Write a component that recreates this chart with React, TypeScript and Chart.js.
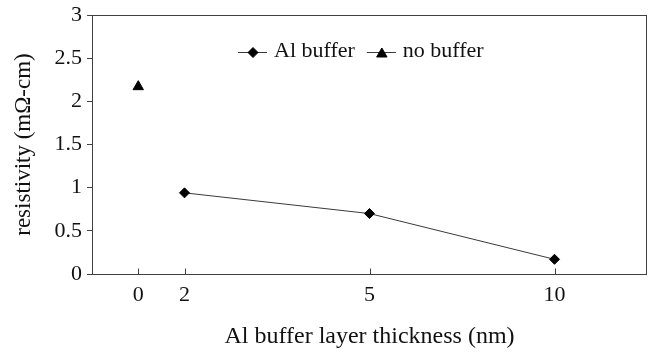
import React, { useEffect, useRef } from 'react';
import { Chart, registerables } from 'chart.js';

Chart.register(...registerables);

// ---- data ----
const xAxisSlots = ['', '0', '2', '', '', '', '5', '', '', '', '10', '', ''];
const alBufferThickness = ['2', '5', '10'];
const alBufferResistivity = [0.94, 0.7, 0.17];
const noBufferThickness = ['0'];
const noBufferResistivity = [2.17];
const seriesLabels = ['Al buffer', 'no buffer'];
const yMin = 0;
const yMax = 3;
const yStep = 0.5;
const xTitle = 'Al buffer layer thickness (nm)';
const yTitle = 'resistivity (mΩ-cm)';

const FONT = '"Liberation Serif", "Times New Roman", serif';
const AXIS = '#404040';
const TEXT = '#111111';

function drawMarker(ctx: CanvasRenderingContext2D, style: string, cx: number, cy: number, r: number, legend = false) {
  ctx.beginPath();
  if (style === 'triangle') {
    const h = 1.5 * r;
    const top = legend ? cy - h / 2 : cy - r;
    ctx.moveTo(cx, top);
    ctx.lineTo(cx + 0.866 * r, top + h);
    ctx.lineTo(cx - 0.866 * r, top + h);
  } else {
    ctx.moveTo(cx - r, cy);
    ctx.lineTo(cx, cy - r);
    ctx.lineTo(cx + r, cy);
    ctx.lineTo(cx, cy + r);
  }
  ctx.closePath();
  ctx.fillStyle = '#000';
  ctx.strokeStyle = '#000';
  ctx.lineWidth = 1;
  ctx.fill();
  ctx.stroke();
}

const customPlugin = {
  id: 'customDecor',
  beforeDatasetsDraw(chart: any) {
    const { ctx, chartArea: a } = chart;
    ctx.save();
    ctx.strokeStyle = AXIS;
    ctx.lineWidth = 1;
    const l = Math.round(a.left) + 0.5;
    const t = Math.round(a.top) + 0.5;
    const r = Math.round(a.right) - 0.5;
    const b = Math.round(a.bottom) + 0.5;
    ctx.strokeRect(l, t, r - l, b - t);
    // inner tick marks on the x axis at labelled slots
    const xs = chart.scales.x;
    xs.ticks.forEach((tk: any, i: number) => {
      const lab = xs.getLabelForValue(tk.value);
      if (!lab) return;
      const px = Math.round(xs.getPixelForTick(i)) + 0.5;
      ctx.beginPath();
      ctx.moveTo(px, b);
      ctx.lineTo(px, b - 6);
      ctx.stroke();
    });
    ctx.restore();
  },
  afterDraw(chart: any) {
    const ctx: CanvasRenderingContext2D = chart.ctx;
    ctx.save();
    ctx.font = `22px ${FONT}`;
    ctx.textBaseline = 'middle';
    ctx.textAlign = 'left';
    let x = 238;
    const y = 52;
    chart.data.datasets.forEach((ds: any) => {
      ctx.strokeStyle = ds.borderColor;
      ctx.lineWidth = 1;
      ctx.beginPath();
      ctx.moveTo(x, y + 0.5);
      ctx.lineTo(x + 29, y + 0.5);
      ctx.stroke();
      drawMarker(ctx, ds.pointStyle, x + 15, y + 0.5, ds.pointStyle === 'triangle' ? 6 : 5, true);
      ctx.fillStyle = TEXT;
      ctx.fillText(ds.label, x + 36, y - 1);
      x += 36 + ctx.measureText(ds.label).width + 12;
    });
    ctx.restore();
  },
};

export default function App() {
  const ref = useRef<HTMLCanvasElement>(null);
  useEffect(() => {
    document.body.style.margin = '0';
    const canvas = ref.current;
    if (!canvas) return;
    const chart = new Chart(canvas, {
      type: 'line',
      data: {
        labels: xAxisSlots,
        datasets: [
          {
            label: seriesLabels[0],
            data: alBufferThickness.map((t, i) => ({ x: t, y: alBufferResistivity[i] })),
            borderColor: '#3a3a3a',
            borderWidth: 1,
            pointStyle: 'rectRot',
            pointRadius: 5,
            pointBackgroundColor: '#000',
            pointBorderColor: '#000',
            pointBorderWidth: 1,
            tension: 0,
          },
          {
            label: seriesLabels[1],
            data: noBufferThickness.map((t, i) => ({ x: t, y: noBufferResistivity[i] })),
            borderColor: '#3a3a3a',
            borderWidth: 1,
            pointStyle: 'triangle',
            pointRadius: 6,
            pointBackgroundColor: '#000',
            pointBorderColor: '#000',
            pointBorderWidth: 1,
            showLine: false,
          },
        ],
      },
      options: {
        animation: false,
        responsive: false,
        devicePixelRatio: 1,
        layout: { padding: { top: 15, right: 7, left: 0, bottom: 0 } },
        plugins: {
          legend: { display: false },
          tooltip: { enabled: false },
        },
        scales: {
          x: {
            type: 'category',
            offset: false,
            grid: { display: false, drawTicks: false, tickLength: 0 },
            border: { display: false },
            ticks: {
              autoSkip: false,
              maxRotation: 0,
              minRotation: 0,
              padding: 8,
              color: TEXT,
              font: { family: FONT, size: 22 },
            },
            title: {
              display: true,
              text: xTitle,
              color: TEXT,
              font: { family: FONT, size: 24 },
              padding: { top: 0, bottom: 5 },
            },
            afterFit(scale: any) {
              scale.height = 82;
              scale.paddingLeft = 0;
              scale.paddingRight = 0;
            },
          },
          y: {
            type: 'linear',
            min: yMin,
            max: yMax,
            grid: { display: true, drawOnChartArea: false, drawTicks: true, tickLength: 5, color: AXIS },
            border: { display: false },
            ticks: {
              stepSize: yStep,
              padding: 5,
              color: TEXT,
              font: { family: FONT, size: 22 },
              callback: (v: any) => String(v),
            },
            title: {
              display: true,
              text: yTitle,
              color: TEXT,
              font: { family: FONT, size: 23 },
              padding: { top: 10, bottom: 0 },
            },
            afterFit(scale: any) {
              scale.width = 92;
              scale.paddingTop = 0;
              scale.paddingBottom = 0;
            },
          },
        },
      },
      plugins: [customPlugin],
    });
    return () => chart.destroy();
  }, []);
  return (
    <div style={{ position: 'fixed', left: 0, top: 0, width: 654, height: 356, background: '#fff' }}>
      <canvas ref={ref} width={654} height={356} />
    </div>
  );
}
